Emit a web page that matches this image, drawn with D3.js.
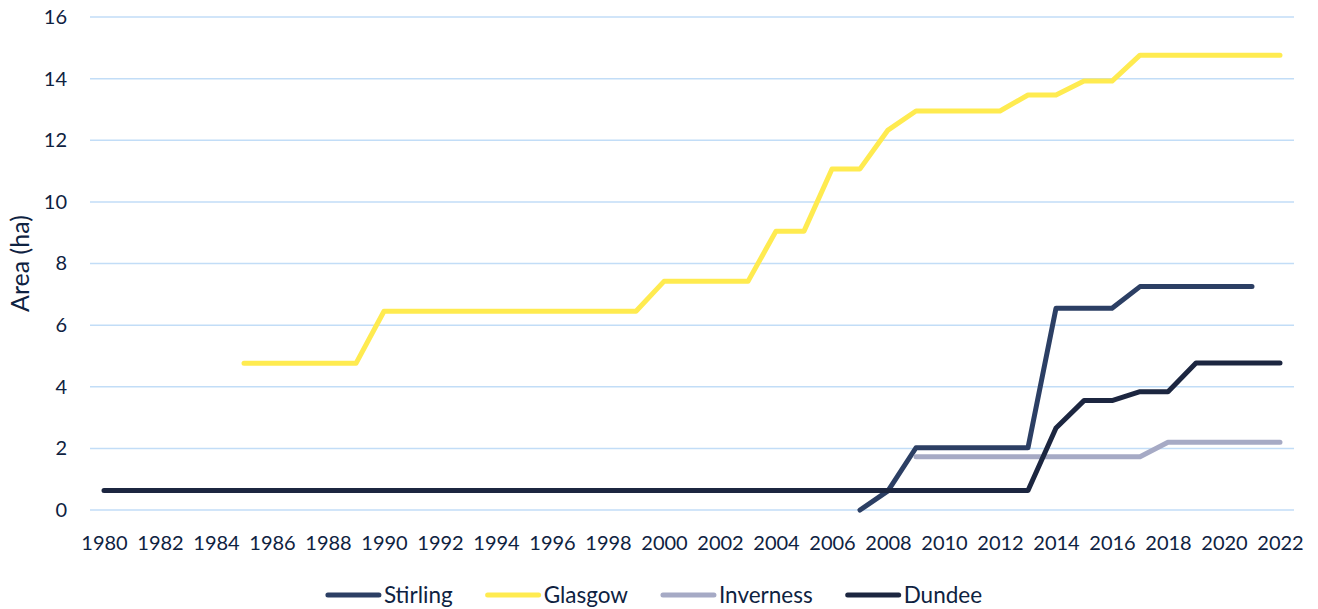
<!DOCTYPE html>
<html>
<head>
<meta charset="utf-8">
<script src="https://cdnjs.cloudflare.com/ajax/libs/d3/7.8.5/d3.min.js"></script>
<style>
  body { margin: 0; background: #fff; }
  text { font-family: Lato, "Open Sans", sans-serif; fill: #0e2241; }
</style>
</head>
<body>
<div id="chart"></div>
<script>
// Years on the category axis
var years = d3.range(1980, 2023);
var yTicks = [0, 2, 4, 6, 8, 10, 12, 14, 16];
var seriesNames = ["Stirling", "Glasgow", "Inverness", "Dundee"];
var seriesColors = ["#2c3f64", "#ffeb50", "#a6aac5", "#1c2640"];

// Area (ha) per year, null where there is no data
var stirling = [
  null, null, null, null, null, null, null, null, null, null,
  null, null, null, null, null, null, null, null, null, null,
  null, null, null, null, null, null, null,
  0, 0.62, 2.02, 2.02, 2.02, 2.02, 2.02, 6.55, 6.55, 6.55,
  7.25, 7.25, 7.25, 7.25, 7.25, null
];
var glasgow = [
  null, null, null, null, null,
  4.76, 4.76, 4.76, 4.76, 4.76,
  6.45, 6.45, 6.45, 6.45, 6.45, 6.45, 6.45, 6.45, 6.45, 6.45,
  7.42, 7.42, 7.42, 7.42, 9.05, 9.05, 11.07, 11.07, 12.33,
  12.95, 12.95, 12.95, 12.95, 13.47, 13.47, 13.92, 13.92,
  14.76, 14.76, 14.76, 14.76, 14.76, 14.76
];
var inverness = [
  null, null, null, null, null, null, null, null, null, null,
  null, null, null, null, null, null, null, null, null, null,
  null, null, null, null, null, null, null, null, null,
  1.73, 1.73, 1.73, 1.73, 1.73, 1.73, 1.73, 1.73, 1.73,
  2.2, 2.2, 2.2, 2.2, 2.2
];
var dundee = [
  0.63, 0.63, 0.63, 0.63, 0.63, 0.63, 0.63, 0.63, 0.63, 0.63,
  0.63, 0.63, 0.63, 0.63, 0.63, 0.63, 0.63, 0.63, 0.63, 0.63,
  0.63, 0.63, 0.63, 0.63, 0.63, 0.63, 0.63, 0.63, 0.63, 0.63,
  0.63, 0.63, 0.63, 0.63,
  2.66, 3.55, 3.55, 3.84, 3.84, 4.77, 4.77, 4.77, 4.77
];
var seriesValues = [stirling, glasgow, inverness, dundee];

var svgWidth = 1318;
var svgHeight = 609;

var svg = d3.select("#chart")
  .append("svg")
  .attr("width", svgWidth)
  .attr("height", svgHeight);

var x = d3.scalePoint()
  .domain(years)
  .range([90, 1294])
  .padding(0.5);

var y = d3.scaleLinear()
  .domain([0, 16])
  .range([510, 17]);

// gridlines
svg.append("g")
  .selectAll("line")
  .data(yTicks)
  .enter()
  .append("line")
  .attr("x1", 90)
  .attr("x2", 1294)
  .attr("y1", d => y(d))
  .attr("y2", d => y(d))
  .attr("stroke", "#c2ddf7")
  .attr("stroke-width", 1.5);

// y axis labels
var leftAxis = d3.axisLeft(y).tickValues(yTicks).tickSize(0).tickPadding(0);
var yAxis = svg.append("g")
  .attr("transform", "translate(67,0)")
  .call(leftAxis);
yAxis.select(".domain").remove();
yAxis.selectAll("text")
  .style("font-size", "20px")
  .attr("fill", "#0e2241");

// x axis labels, every second year
var bottomAxis = d3.axisBottom(x)
  .tickValues(years.filter(d => d % 2 === 0))
  .tickSize(0)
  .tickPadding(0);
var xAxis = svg.append("g")
  .attr("transform", "translate(0,536)")
  .call(bottomAxis);
xAxis.select(".domain").remove();
xAxis.selectAll("text")
  .style("font-size", "20px")
  .attr("fill", "#0e2241");

// y axis title
svg.append("text")
  .attr("transform", "translate(29," + y(8) + ") rotate(-90)")
  .attr("text-anchor", "middle")
  .style("font-size", "25px")
  .text("Area (ha)");

// series lines
var line = d3.line()
  .defined(d => d.v !== null)
  .x(d => x(d.year))
  .y(d => y(d.v));

seriesNames.forEach(function(name, i) {
  var pts = years.map((yr, j) => ({ year: yr, v: seriesValues[i][j] }));
  svg.append("path")
    .datum(pts)
    .attr("d", line)
    .attr("fill", "none")
    .attr("stroke", seriesColors[i])
    .attr("stroke-width", 5)
    .attr("stroke-linecap", "round")
    .attr("stroke-linejoin", "round");
});

// legend, laid out from the text widths and centred
var legend = svg.append("g");
var cursor = 0;
seriesNames.forEach(function(name, i) {
  legend.append("line")
    .attr("x1", cursor + 2)
    .attr("x2", cursor + 53)
    .attr("y1", 595)
    .attr("y2", 595)
    .attr("stroke", seriesColors[i])
    .attr("stroke-width", 5)
    .attr("stroke-linecap", "round");
  var t = legend.append("text")
    .attr("x", cursor + 58)
    .attr("y", 603)
    .style("font-size", "22.5px")
    .text(name);
  cursor += 58 + t.node().getComputedTextLength() + 33;
});
var legendWidth = cursor - 33;
legend.attr("transform", "translate(" + (654 - legendWidth / 2) + ",0)");
</script>
</body>
</html>
